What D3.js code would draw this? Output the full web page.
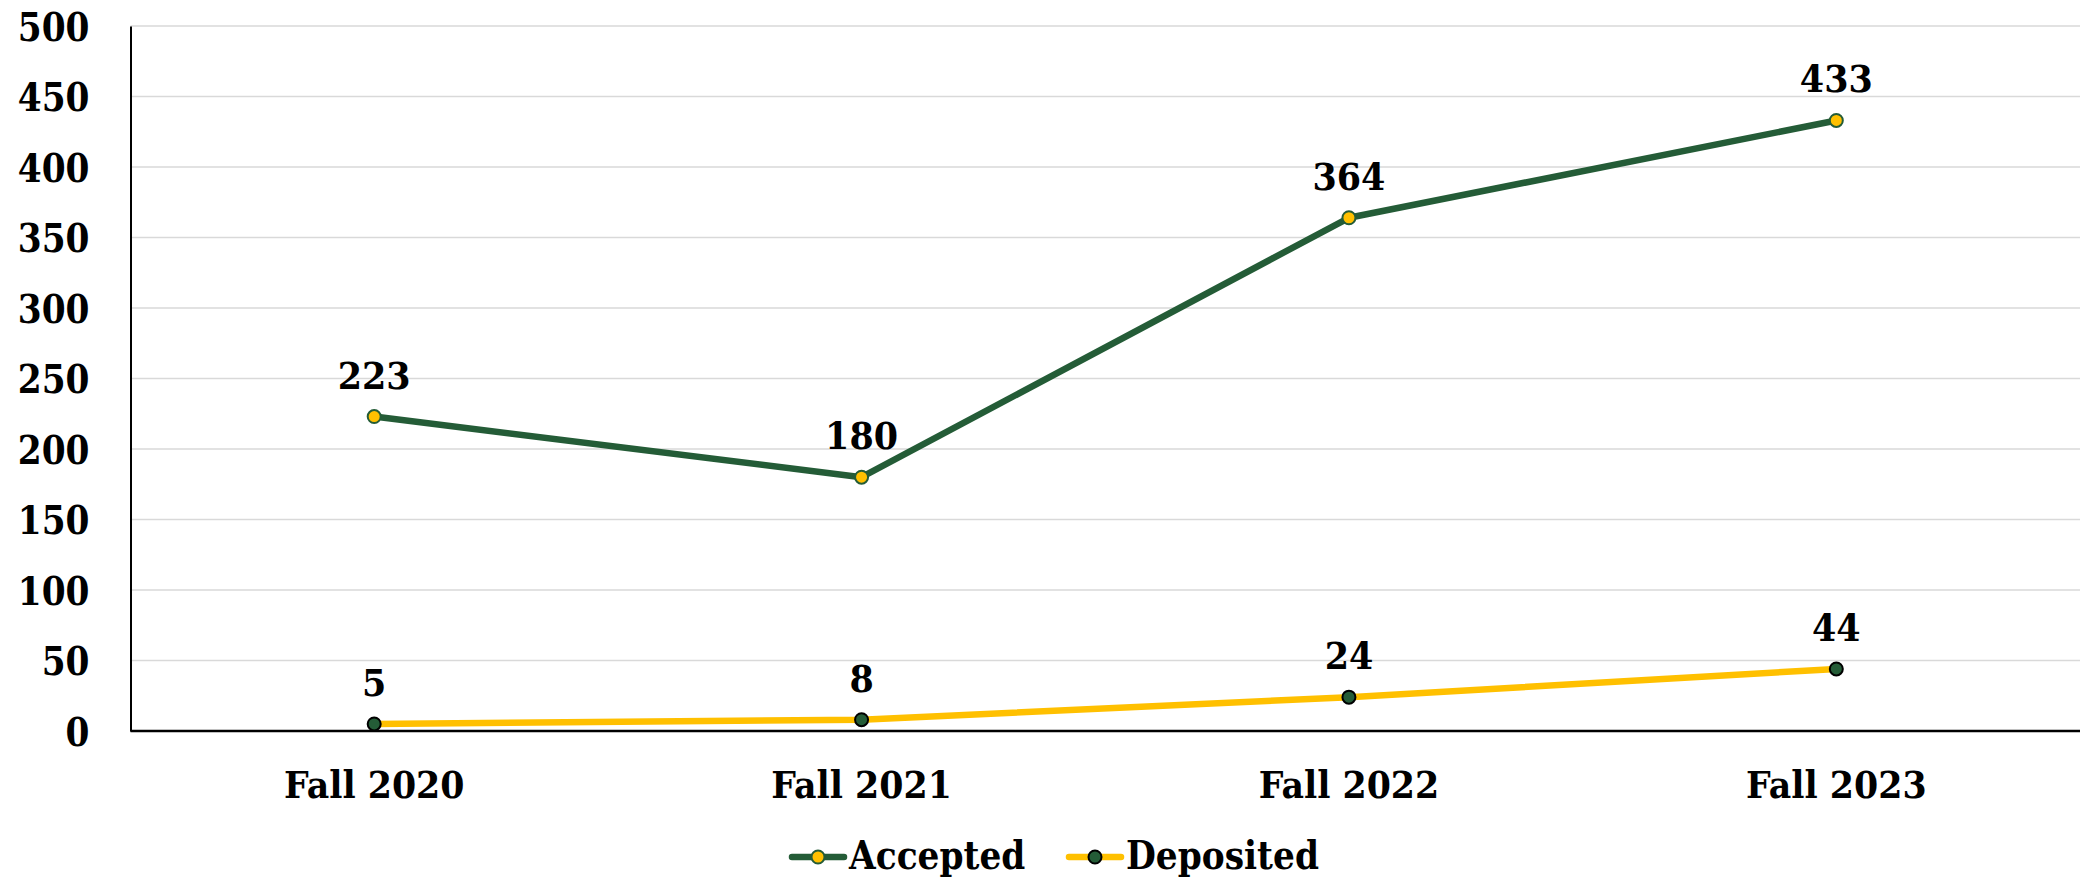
<!DOCTYPE html>
<html><head><meta charset="utf-8">
<script src="https://cdn.jsdelivr.net/npm/d3@7/dist/d3.min.js"></script>
<style>
html,body{margin:0;padding:0;background:#fff;}
svg text{font-family:"DejaVu Serif",serif;font-weight:bold;fill:#000;}
</style></head>
<body><svg id="c" width="2080" height="881"></svg>
<script>
const categories = ["Fall 2020","Fall 2021","Fall 2022","Fall 2023"];
const accepted = [223,180,364,433];
const deposited = [5,8,24,44];
const yTicks = [0,50,100,150,200,250,300,350,400,450,500];
const seriesNames = ["Accepted","Deposited"];

const green = "#245C37", yellow = "#FFC000";
const svg = d3.select("#c");
const L = 130.5, R = 2080, T = 26, B = 731;
const x = d3.scaleBand().domain(categories).range([L, R]);
const y = d3.scaleLinear().domain([0,500]).range([B, T]);

// gridlines
svg.append("g").selectAll("line").data(yTicks.filter(d=>d>0)).join("line")
  .attr("x1", L).attr("x2", R).attr("y1", d=>y(d)).attr("y2", d=>y(d))
  .attr("stroke", "#d9d9d9").attr("stroke-width", 1.5);

// y axis
const ya = svg.append("g").attr("transform", `translate(${L},0)`)
  .call(d3.axisLeft(y).tickValues(yTicks).tickSize(0).tickPadding(41));
ya.select(".domain").attr("stroke","#000").attr("stroke-width",2);
ya.selectAll("text").attr("font-size", 40).attr("x", 0).attr("dy","0.36em")
  .attr("transform", "translate(-41,0) scale(0.86,1)");

// x axis
const xa = svg.append("g").attr("transform", `translate(0,${B})`)
  .call(d3.axisBottom(x).tickSize(0).tickPadding(41));
xa.select(".domain").attr("stroke","#000").attr("stroke-width",2.5).attr("d", `M${L},0H${R}`);
xa.selectAll("text").attr("font-size", 37).attr("y", 0).attr("dy","0.71em")
  .attr("transform", "translate(0,41) scale(0.94,1)");

const cx = d => x(d) + x.bandwidth()/2;
const line = d3.line().x(d=>cx(d.c)).y(d=>y(d.v));
function series(vals, lineColor, markerFill, markerStroke){
  const data = categories.map((c,i)=>({c, v: vals[i]}));
  svg.append("path").datum(data).attr("d", line).attr("fill","none")
    .attr("stroke", lineColor).attr("stroke-width", 6.5).attr("stroke-linejoin","round");
  svg.append("g").selectAll("circle").data(data).join("circle")
    .attr("cx", d=>cx(d.c)).attr("cy", d=>y(d.v)).attr("r", 6.5)
    .attr("fill", markerFill).attr("stroke", markerStroke).attr("stroke-width", 2);
  svg.append("g").selectAll("text").data(data).join("text")
    .attr("transform", d=>`translate(${cx(d.c)},${y(d.v) - 28}) scale(0.92,1)`)
    .attr("text-anchor","middle").attr("font-size", 38).text(d=>d.v);
}
series(accepted, green, yellow, green);
series(deposited, yellow, green, "#000");

// legend
const leg = [
  {name: seriesNames[0], lc: green, mf: yellow, ms: green, x0: 792},
  {name: seriesNames[1], lc: yellow, mf: green, ms: "#000", x0: 1069}
];
const lg = svg.append("g");
leg.forEach(d=>{
  lg.append("line").attr("x1", d.x0).attr("x2", d.x0+52).attr("y1", 857).attr("y2", 857)
    .attr("stroke", d.lc).attr("stroke-width", 6.5).attr("stroke-linecap","round");
  lg.append("circle").attr("cx", d.x0+26).attr("cy", 857).attr("r", 6.5)
    .attr("fill", d.mf).attr("stroke", d.ms).attr("stroke-width", 2);
  lg.append("text").attr("transform", `translate(${d.x0+57},869) scale(0.86,1)`)
    .attr("font-size", 40).text(d.name);
});
</script></body></html>
